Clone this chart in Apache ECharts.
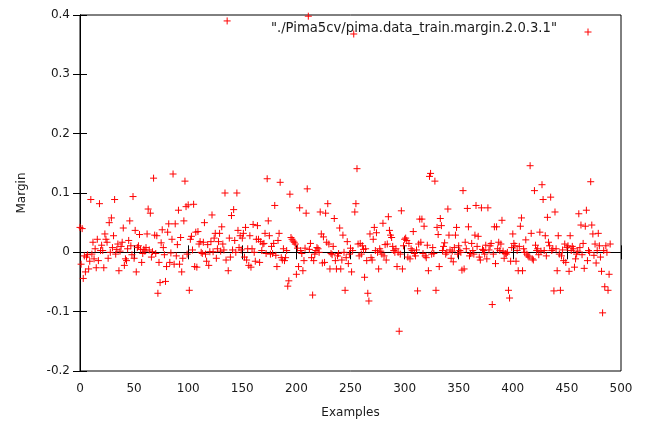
<!DOCTYPE html>
<html>
<head>
<meta charset="utf-8">
<script src="https://cdn.jsdelivr.net/npm/echarts@6/dist/echarts.min.js"></script>
<style>
html,body{margin:0;padding:0;background:#fff;}
#c{width:658px;height:425px;}
</style>
</head>
<body>
<div id="c"></div>
<script>
// Margin values per example (index = example number)
const margin000 = [0.042,-0.02,0.040,-0.044,-0.006,-0.033,-0.008,-0.004,-0.028,-0.015,
 0.089,-0.003,0.017,-0.011,0.006,-0.026,0.022,-0.014,0.082,0.003,
 0.012,0.003,-0.026,0.031,0.022,0.017,-0.010,0.050,0.000,0.058,
 0.008,0.028,0.089,-0.003,0.005,0.014,-0.031,0.002,0.010,0.017,
 0.041,-0.022,-0.011,-0.014,0.006,0.020,0.053,0.011,-0.004,0.094,
 -0.010,0.037,-0.033,0.008,0.011,0.030,0.005,-0.017,-0.002,0.005,
 0.002,0.008,0.031,0.073,0.004,0.066,-0.008,0.001,0.125,0.029,
 -0.002,0.028,-0.069,-0.017,-0.051,0.016,0.038,0.008,-0.004,-0.049,
 -0.024,0.034,0.048,-0.017,-0.001,0.022,0.132,-0.020,0.048,-0.006,
 0.013,0.071,-0.020,0.025,-0.033,-0.010,0.053,0.120,0.077,-0.003];
const margin100 = [0.080,-0.064,0.022,0.027,0.004,0.081,-0.024,0.034,-0.025,0.035,
 0.014,0.018,0.000,-0.002,0.017,0.050,-0.003,-0.015,0.013,-0.022,
 0.001,0.018,0.063,0.001,0.024,0.032,-0.010,0.006,0.018,0.032,
 0.002,0.043,0.014,0.004,0.100,-0.013,0.390,-0.031,0.024,-0.008,
 0.062,0.004,0.072,0.020,0.000,0.100,0.037,0.008,0.028,0.004,
 0.024,0.032,-0.008,0.042,-0.013,0.006,-0.022,0.028,-0.025,0.006,
 0.047,0.000,-0.015,0.022,0.045,0.022,-0.017,0.018,0.003,0.014,
 0.015,0.032,-0.002,0.124,0.053,0.028,-0.003,0.010,-0.002,0.015,
 0.079,-0.005,-0.024,0.020,0.032,0.118,-0.009,-0.013,0.006,-0.014,
 -0.009,0.003,-0.057,-0.048,0.098,0.025,0.022,0.019,0.017,0.014];
const margin200 = [-0.037,0.007,-0.024,0.075,0.003,-0.002,-0.031,-0.014,0.007,0.066,
 0.107,0.398,0.005,0.015,-0.009,-0.072,-0.014,-0.003,0.003,0.008,
 0.006,0.000,0.068,0.031,-0.018,0.026,-0.017,0.066,0.017,0.082,
 0.014,-0.028,-0.002,-0.004,0.010,0.057,-0.014,-0.028,-0.006,-0.002,
 0.041,-0.028,-0.013,0.029,0.000,-0.064,-0.009,0.018,-0.019,-0.003,
 0.007,-0.033,0.003,0.368,0.068,0.082,0.141,0.014,-0.006,0.015,
 -0.003,0.011,0.005,-0.042,0.006,-0.014,-0.069,-0.082,0.031,-0.009,
 -0.013,0.022,0.042,0.003,0.033,0.000,-0.028,0.006,0.002,-0.003,
 0.049,-0.006,0.013,-0.013,0.014,0.060,0.037,0.029,0.025,0.010,
 0.003,0.000,0.006,-0.024,0.000,-0.133,-0.003,0.070,-0.028,0.011];
const margin300 = [0.022,0.024,0.020,-0.008,0.015,-0.011,0.006,0.003,0.035,-0.002,
 -0.006,0.004,-0.065,0.014,0.056,0.017,0.056,-0.002,0.044,-0.006,
 -0.009,0.012,-0.031,0.128,0.133,-0.003,0.008,-0.002,0.120,-0.064,
 0.042,0.030,-0.024,0.057,0.045,0.003,0.010,0.016,-0.003,0.000,
 0.073,0.029,0.004,-0.010,0.002,-0.016,0.008,0.029,0.042,-0.003,
 0.011,0.003,0.000,-0.030,0.104,-0.028,0.017,0.006,0.074,0.043,
 -0.006,-0.002,0.015,0.003,-0.003,0.029,0.079,0.010,0.027,-0.008,
 -0.013,0.075,0.005,0.003,-0.003,0.012,-0.011,0.075,0.004,0.011,
 0.015,-0.088,-0.003,0.043,-0.019,0.043,0.006,0.017,0.003,0.014,
 0.054,0.002,-0.010,-0.002,-0.003,0.000,-0.064,-0.077,-0.015,0.008];
const margin400 = [0.031,0.015,0.011,-0.015,0.003,-0.031,0.010,0.044,0.058,-0.031,
 0.006,0.000,0.021,-0.003,-0.006,-0.008,0.146,0.032,-0.011,-0.013,
 0.104,0.012,0.003,0.006,-0.004,0.034,0.002,0.114,0.089,0.003,
 0.028,-0.006,0.059,0.017,0.011,0.093,0.003,0.006,-0.065,0.068,
 0.006,-0.031,0.028,-0.003,-0.064,-0.006,0.004,-0.014,0.014,-0.017,
 0.008,0.011,-0.032,0.028,0.003,0.010,0.006,-0.025,-0.011,-0.003,
 0.002,0.065,0.008,0.046,-0.004,0.015,-0.027,0.044,0.071,-0.014,
 0.003,0.000,0.119,0.046,0.031,-0.005,0.014,-0.018,0.003,0.032,
 0.011,-0.008,-0.032,-0.102,0.003,-0.058,0.011,0.000,-0.064,-0.037,
 0.014];
const margins = [].concat(margin000, margin100, margin200, margin300, margin400);
const seriesName = '"./Pima5cv/pima.data_train.margin.2.0.3.1"';
const xTitle = 'Examples';
const yTitle = 'Margin';

const points = margins.map((v, i) => [i, v]);
const plus = 'path://M0,5L10,5M5,0L5,10';
const font = 'DejaVu Sans';
const txt = '#1a1a1a';
const axisCol = '#000';

const chart = echarts.init(document.getElementById('c'), null, {renderer: 'canvas'});
chart.setOption({
  animation: false,
  backgroundColor: '#fff',
  textStyle: {fontFamily: font},
  grid: {left: 80, right: 37, top: 15, bottom: 54, show: true, borderColor: axisCol, borderWidth: 1},
  legend: {show: false},
  graphic: [
    {type: 'text', right: 101, top: 22, z: 100,
     style: {text: seriesName, fontFamily: font, fontSize: 13.2, fill: txt}},
    {type: 'group', left: 582, top: 26, z: 100, children: [
      {type: 'line', shape: {x1: 0, y1: 3.5, x2: 7, y2: 3.5}, style: {stroke: '#ff0000', lineWidth: 1}},
      {type: 'line', shape: {x1: 3.5, y1: 0, x2: 3.5, y2: 7}, style: {stroke: '#ff0000', lineWidth: 1}}
    ]}
  ],
  xAxis: [{
    type: 'value', min: 0, max: 500, interval: 50,
    name: xTitle, nameLocation: 'middle', nameGap: 36,
    nameTextStyle: {fontFamily: font, fontSize: 12, color: txt},
    axisLine: {show: true, lineStyle: {color: axisCol}},
    axisTick: {show: true, inside: true, length: 7, lineStyle: {color: axisCol}},
    axisLabel: {margin: 12, fontFamily: font, fontSize: 12, color: txt},
    splitLine: {show: false}
  }, {
    type: 'value', min: 0, max: 500, interval: 50, position: 'top',
    axisLine: {show: true, lineStyle: {color: axisCol}},
    axisTick: {show: true, inside: true, length: 7, lineStyle: {color: axisCol}},
    axisLabel: {show: false}, splitLine: {show: false}
  }],
  yAxis: [{
    type: 'value', min: -0.2, max: 0.4, interval: 0.1,
    name: yTitle, nameLocation: 'middle', nameGap: 52,
    nameTextStyle: {fontFamily: font, fontSize: 12, color: txt},
    axisLine: {show: true, lineStyle: {color: axisCol}},
    axisTick: {show: true, inside: true, length: 7, lineStyle: {color: axisCol}},
    axisLabel: {margin: 10, fontFamily: font, fontSize: 12, color: txt,
      formatter: v => String(+v.toFixed(1))},
    splitLine: {show: false}
  }, {
    type: 'value', min: -0.2, max: 0.4, interval: 0.1, position: 'right',
    axisLine: {show: true, lineStyle: {color: axisCol}},
    axisTick: {show: true, inside: true, length: 7, lineStyle: {color: axisCol}},
    axisLabel: {show: false}, splitLine: {show: false}
  }],
  series: [{
    name: seriesName,
    type: 'scatter',
    xAxisIndex: 0, yAxisIndex: 0,
    symbol: plus,
    symbolSize: 7,
    itemStyle: {color: 'rgba(0,0,0,0)', borderColor: '#ff0000', borderWidth: 1, opacity: 1},
    emphasis: {disabled: true},
    data: points
  }]
});
</script>
</body>
</html>
